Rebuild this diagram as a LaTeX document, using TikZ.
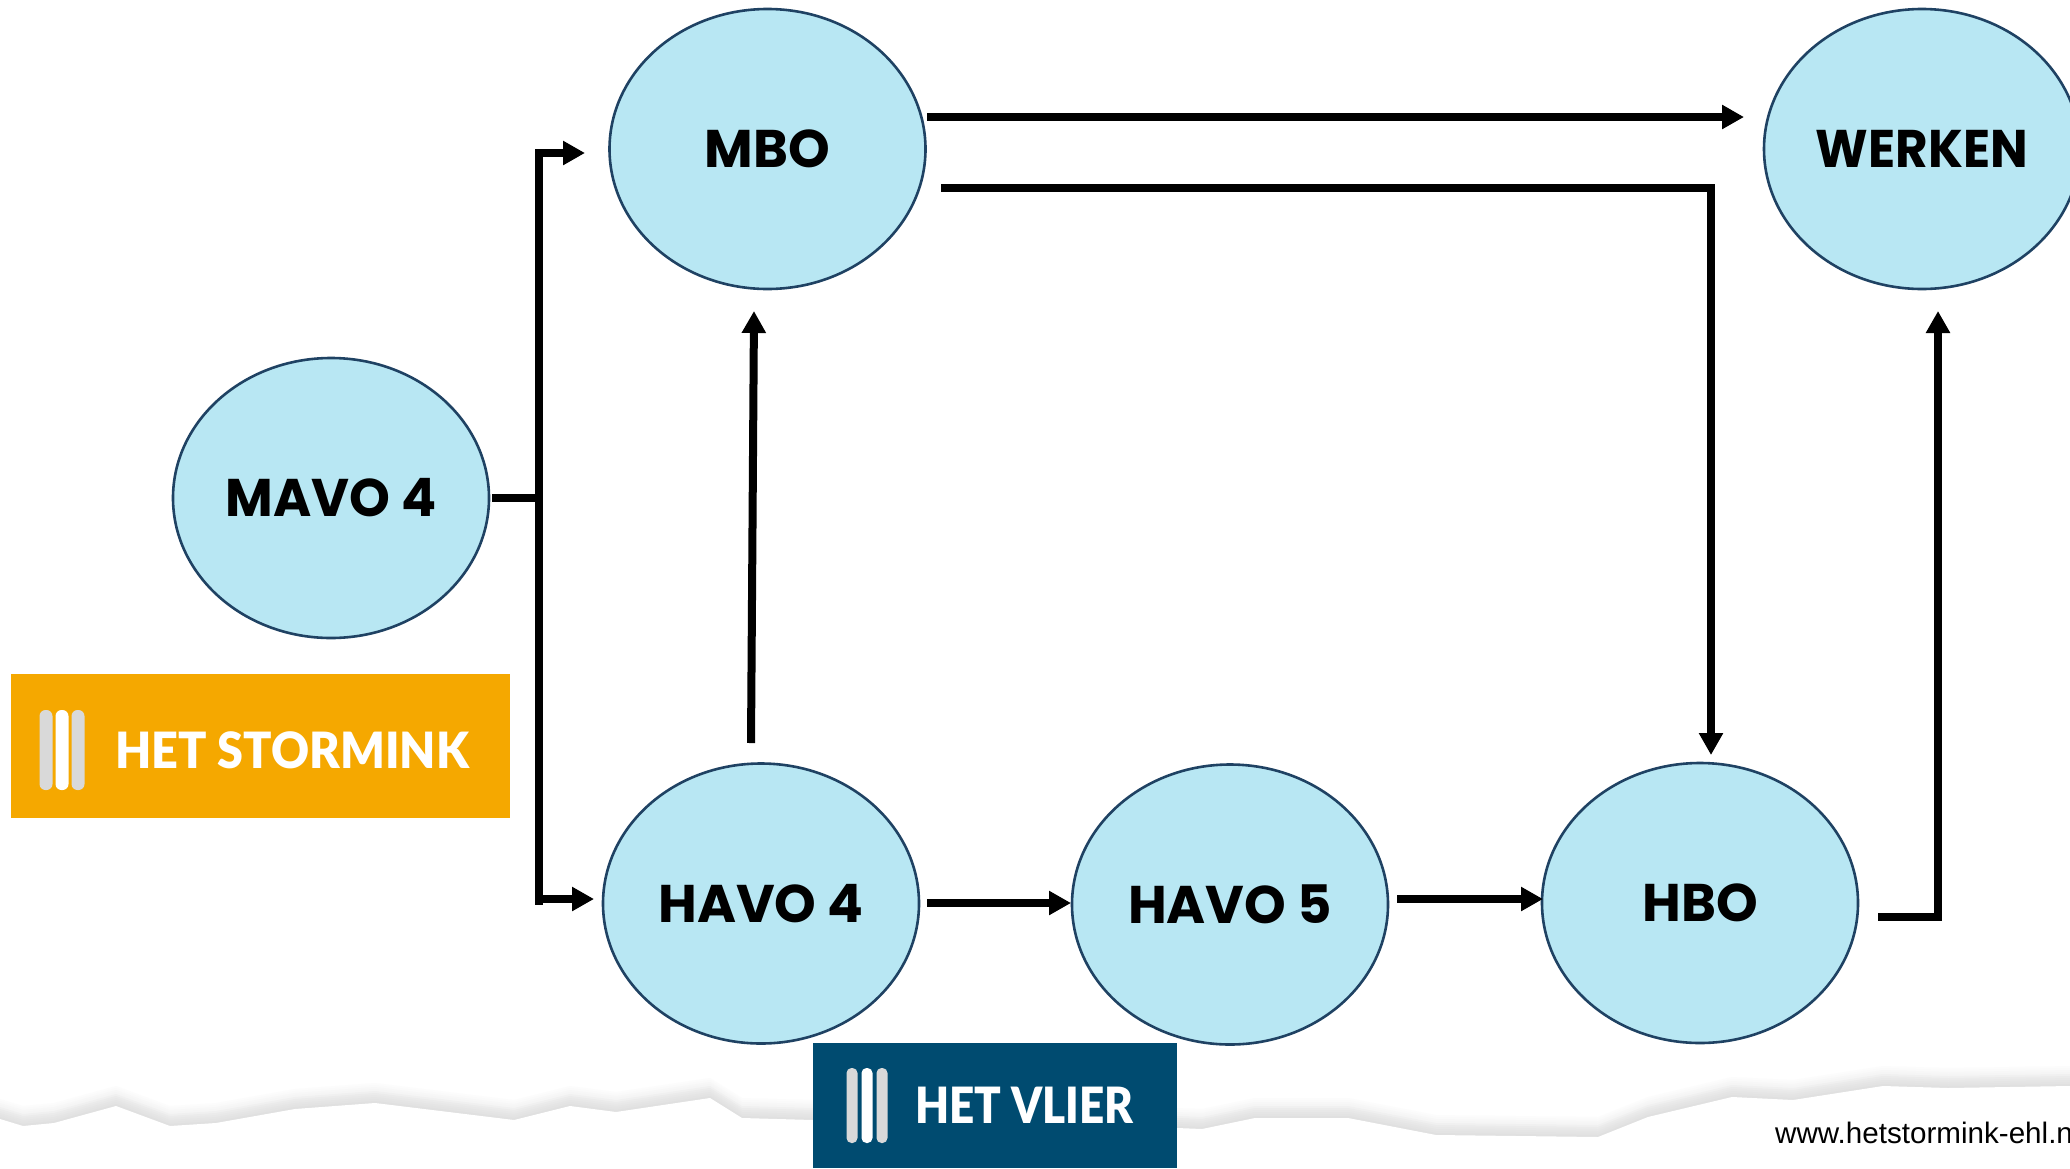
\documentclass[tikz,border=0pt]{standalone}
\usepackage{fontspec}
\setmainfont{Liberation Sans}
\newfontfamily\labelfont{Poppins}[BoldFont={Poppins Bold}]
\newfontfamily\logofont{Lato}[BoldFont={Lato Black}]
\usetikzlibrary{arrows.meta,calc,shapes.geometric}
\definecolor{bubblefill}{HTML}{B8E7F3}
\definecolor{bubbleline}{HTML}{1F4263}
\definecolor{stormorange}{HTML}{F5A800}
\definecolor{vliernavy}{HTML}{004B70}
\definecolor{barsgrey}{HTML}{D9D9D9}
\newcommand{\bubbletext}[2]{\raisebox{-1.5pt}{\scalebox{#1}[1]{#2}}}
\tikzset{
  bubble/.style={ellipse,draw=bubbleline,fill=bubblefill,line width=2.6pt,minimum width=316pt,minimum height=280pt,inner sep=0pt,font=\labelfont\bfseries\fontsize{53}{53}\selectfont,text=black},
  conn/.style={draw=black,line width=8pt,line join=miter},
  arr/.style={conn,-{Triangle[length=22pt,width=23pt]}},
  logotext/.style={text=white,font=\logofont\bfseries\fontsize{50}{50}\selectfont,inner sep=0pt,anchor=base west}
}
\begin{document}
\begin{tikzpicture}[x=1pt,y=-1pt]
\useasboundingbox (0,0) rectangle (2070,1168);
\fill[white] (0,0) rectangle (2070,1168);
% torn paper band
\def\edge{(0,1119) -- (23,1126) -- (54,1123) -- (116,1106) -- (170,1126) -- (216,1123) -- (295,1109) -- (375,1103) -- (514,1120) -- (570,1106) -- (616,1112) -- (710,1098) -- (742,1118) -- (813,1120) -- (1177,1128) -- (1202,1129) -- (1255,1118) -- (1348,1118) -- (1436,1135) -- (1598,1137) -- (1648,1117) -- (1732,1097) -- (1793,1100) -- (1883,1086) -- (1948,1088) -- (2070,1086) -- (2071,1170) -- (-1,1170) -- cycle}
\foreach \dy/\gr in {20/1,18/2,16/3,14/4,12/6,10/8,8/9,6/10,4/11,2/12}{
  \fill[black!\gr!white,yshift=\dy pt] \edge;
}
\fill[white] \edge;
% ellipses
\node[bubble] (mbo) at (767.5,149) {\bubbletext{1.0}{MBO}};
\node[bubble] (werken) at (1922,149) {\bubbletext{0.945}{WERKEN}};
\node[bubble] (mavo) at (331,498) {\bubbletext{0.98}{MAVO 4}};
\node[bubble] (havoa) at (761,903.5) {\bubbletext{1.0}{HAVO 4}};
\node[bubble] (havob) at (1230,904.5) {\bubbletext{1.0}{HAVO 5}};
\node[bubble] (hbo) at (1700,903) {\bubbletext{1.0}{HBO}};
% connector end points (the connectors stop short of the ellipses)
\coordinate (mavoout) at (492,498);
\coordinate (trunk) at (539,498);
\coordinate (trunktop) at (539,153);
\coordinate (trunkend) at (539,905);
\coordinate (trunkbot) at (539,899);
\coordinate (mboin) at (585,153);
\coordinate (havoin) at (594,899);
\coordinate (havoup) at (751,743);
\coordinate (mbobot) at (754,311);
\coordinate (mbor) at (927,117);
\coordinate (werkl) at (1744,117);
\coordinate (mbos) at (941,188);
\coordinate (mbocorner) at (1711,188);
\coordinate (hbotop) at (1711,755);
\coordinate (aout) at (927,903);
\coordinate (bin) at (1071,903);
\coordinate (bout) at (1397,899);
\coordinate (hin) at (1543,899);
\coordinate (hout) at (1878,917);
\coordinate (hcorner) at (1938,917);
\coordinate (wbot) at (1938,311);
% connectors
\draw[conn] (mavoout) -- (trunk);
\draw[arr] (trunk) -- (trunktop) -- (mboin);
\draw[conn] (trunk) -- (trunkend);
\draw[arr] (trunkbot) -- (havoin);
\draw[arr] (havoup) -- (mbobot);
\draw[arr] (mbor) -- (werkl);
\draw[arr] (mbos) -- (mbocorner) -- (hbotop);
\draw[arr] (aout) -- (bin);
\draw[arr] (bout) -- (hin);
\draw[arr] (hout) -- (hcorner) -- (wbot);
% logos
\fill[stormorange] (11,674) rectangle (510,818);
\foreach \x/\c in {46/barsgrey,62/white,78/barsgrey}
  \fill[\c,rounded corners=6pt] (\x-6.5,710) rectangle (\x+6.5,790);
\node[logotext] (stormtext) at (115,768) {\scalebox{0.936}[1]{HET STORMINK}};
\fill[vliernavy] (813,1043) rectangle (1177,1168);
\foreach \x/\c in {852/barsgrey,867/white,882/barsgrey}
  \fill[\c,rounded corners=5pt] (\x-5.5,1068) rectangle (\x+5.5,1143);
\node[logotext] (vliertext) at (915,1123) {\scalebox{0.88}[1]{HET VLIER}};
% url
\node[anchor=base west,inner sep=0pt,font=\fontsize{29.6}{30}\selectfont,text=black] (url) at (1775,1143) {www.hetstormink-ehl.nl};
\end{tikzpicture}
\end{document}
